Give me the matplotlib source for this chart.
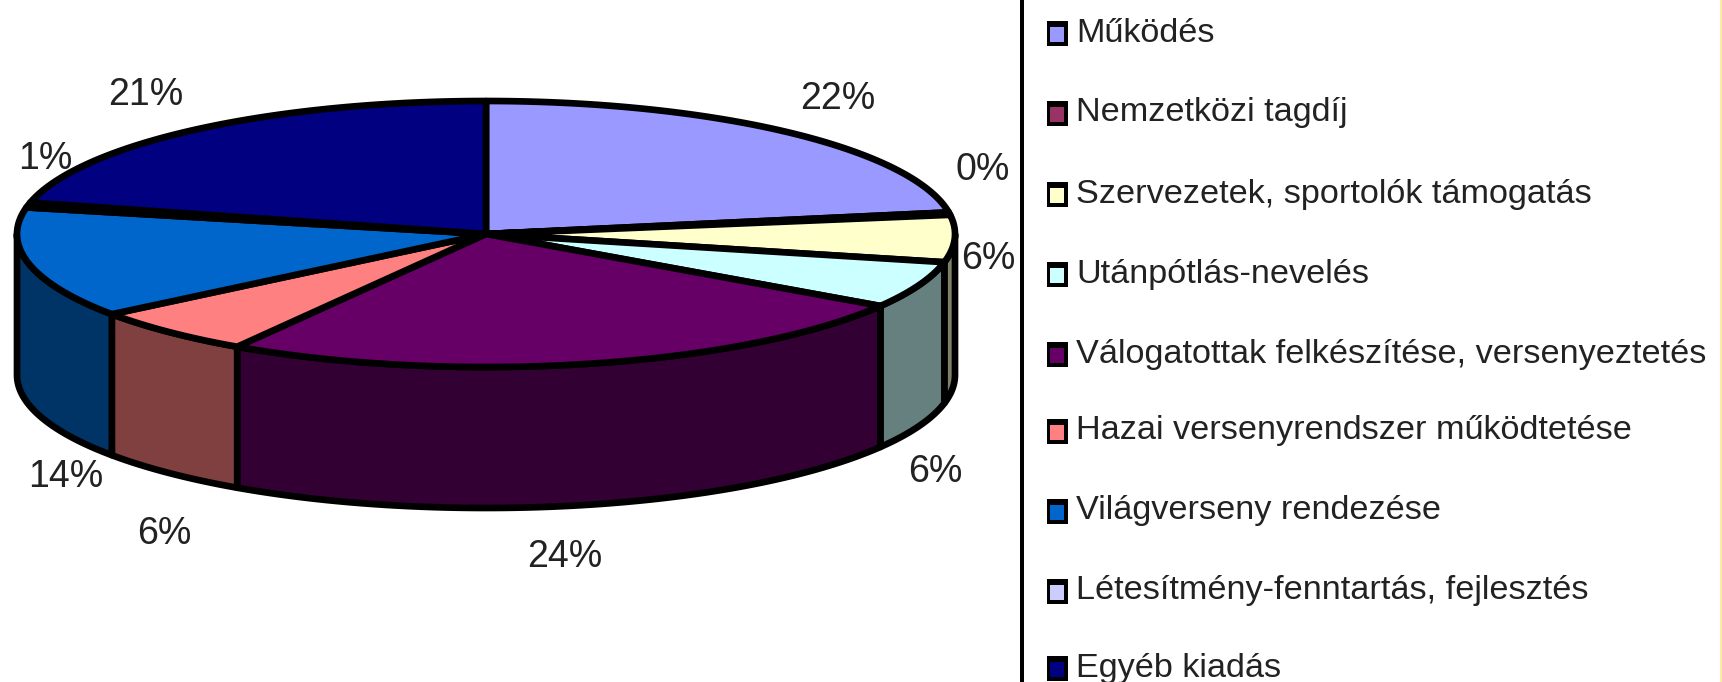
import numpy as np
import matplotlib
matplotlib.use("Agg")
import matplotlib.pyplot as plt
from matplotlib.patches import Polygon, Rectangle

plt.rcParams['font.family'] = ['Liberation Sans', 'DejaVu Sans']

categories = [
    "Működés",
    "Nemzetközi tagdíj",
    "Szervezetek, sportolók támogatás",
    "Utánpótlás-nevelés",
    "Válogatottak felkészítése, versenyeztetés",
    "Hazai versenyrendszer működtetése",
    "Világverseny rendezése",
    "Létesítmény-fenntartás, fejlesztés",
    "Egyéb kiadás",
]
values = [22.4, 0.3, 5.7, 5.7, 24.8, 5.8, 13.5, 0.6, 21.2]
labels = ["22%", "0%", "6%", "6%", "24%", "6%", "14%", "1%", "21%"]
colors = ["#9999FF", "#993366", "#FFFFCC", "#CCFFFF", "#660066",
          "#FF8080", "#0066CC", "#CCCCFF", "#000080"]

# where the percent labels sit, in pixels
label_x = [838, 983, 988, 935, 565, 164, 66, 45, 146]
label_y = [97, 168, 257, 470, 555, 532, 475, 157, 93]
legend_y = [32, 112, 193, 273, 353, 430, 510, 590, 667]

CX, CY, A, B, DEPTH = 486, 234, 469, 133, 141
LW = 4.8


def arc(t0, t1, drop=0):
    t = np.radians(np.linspace(t0, t1, max(int(abs(t1 - t0) * 2), 2)))
    return np.column_stack([CX + A * np.sin(t), CY + drop - B * np.cos(t)])


def darker(hex_color):
    r, g, b = matplotlib.colors.to_rgb(hex_color)
    return (r / 2, g / 2, b / 2)


fig = plt.figure(figsize=(17.22, 6.82), dpi=100)
ax = fig.add_axes([0, 0, 1, 1])
ax.set_xlim(0, 1722)
ax.set_ylim(682, 0)
ax.axis('off')

edges = np.concatenate([[0], np.cumsum(values)]) / sum(values) * 360

# side wall, only the part of the rim that faces us
for i, c in enumerate(colors):
    t0, t1 = max(edges[i], 90), min(edges[i + 1], 270)
    if t1 <= t0:
        continue
    pts = np.vstack([arc(t0, t1), arc(t1, t0, DEPTH)])
    ax.add_patch(Polygon(pts, closed=True, facecolor=darker(c), edgecolor='black',
                         linewidth=LW, joinstyle='round'))

# top of the pie
for i, c in enumerate(colors):
    pts = np.vstack([[CX, CY], arc(edges[i], edges[i + 1])])
    ax.add_patch(Polygon(pts, closed=True, facecolor=c, edgecolor='black',
                         linewidth=LW, joinstyle='round'))

for txt, x, y in zip(labels, label_x, label_y):
    ax.text(x, y + 2, txt, fontsize=27, color='#222222', ha='center', va='center')

# legend panel
ax.add_patch(Rectangle((1020, 0), 4, 682, facecolor='black', edgecolor='none'))
for name, c, y in zip(categories, colors, legend_y):
    ax.add_patch(Rectangle((1047, y - 11), 21, 25, facecolor='black', edgecolor='none'))
    ax.add_patch(Rectangle((1050, y - 5), 14, 15, facecolor=c, edgecolor='none'))
    ax.text(1076, y + 1, name, fontsize=24.7, color='#222222', ha='left', va='center')

# pale strip along the right edge of the scan
ax.add_patch(Rectangle((1720, 0), 2, 682, facecolor='#FFE9A8', edgecolor='none'))

fig.savefig("out.png", dpi=100)
